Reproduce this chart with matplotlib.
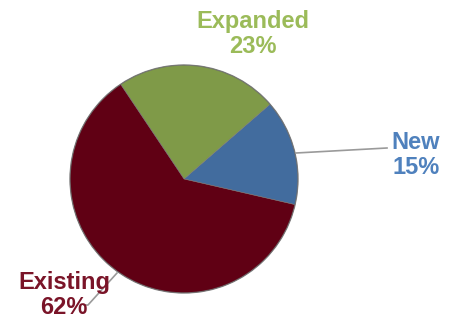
import matplotlib.pyplot as plt
from matplotlib.patches import Circle

labels = ["New", "Expanded", "Existing"]
shares = [15, 23, 62]
wedge_colors = ["#426C9E", "#7F9A48", "#600014"]
text_colors = ["#4F81BD", "#9BBB59", "#7A1428"]

plt.rcParams["font.family"] = ["Liberation Sans", "DejaVu Sans"]

fig = plt.figure(figsize=(4.52, 3.21), dpi=100)
ax = fig.add_axes([0, 0, 1, 1])

# pie in pixel space: centre (184, 179) from top, radius ~114
ax.pie(shares, colors=wedge_colors, startangle=-13, counterclock=True,
       center=(184, 142), radius=114,
       wedgeprops=dict(linewidth=0.4, edgecolor="#7a7a7a"))
# soft rim around the pie
ax.add_patch(Circle((184, 142), 114, fill=False, edgecolor="#6a6a6a", lw=1.0, alpha=0.7))

# leader lines
ax.plot([296, 387], [168, 173], color="#9a9a9a", lw=1.2)
ax.plot([117, 88, 84], [48, 16, 16], color="#9a9a9a", lw=1.2)

label_pos = {"New": (416, 166), "Expanded": (253, 287), "Existing": (64, 26)}
for name, share, col in zip(labels, shares, text_colors):
    x, y = label_pos[name]
    ax.text(x, y, f"{name}\n{share}%", color=col, fontsize=17, fontweight="bold",
            ha="center", va="center", linespacing=1.1)

ax.set_xlim(0, 452)
ax.set_ylim(0, 321)
ax.set_aspect("equal")
ax.axis("off")

fig.savefig("out.png", dpi=100)
